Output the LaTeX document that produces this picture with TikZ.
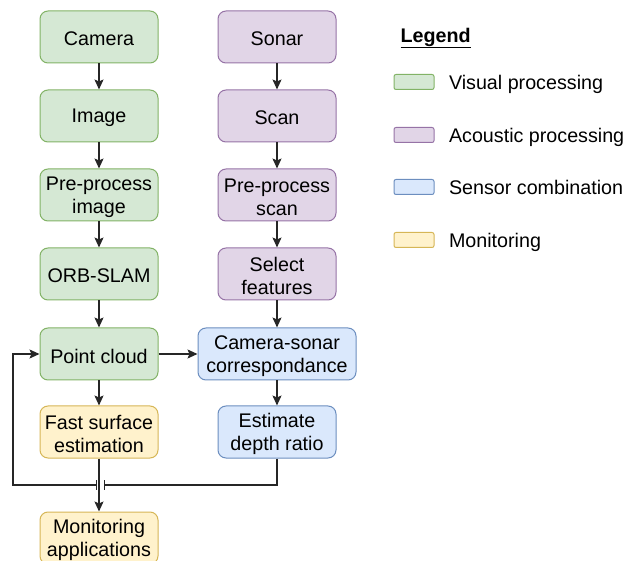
\documentclass[tikz,border=0pt]{standalone}
\usepackage{fontspec}
\setmainfont{Liberation Sans}
\usetikzlibrary{positioning,shapes,arrows,arrows.meta,calc}
\definecolor{visfill}{HTML}{D5E8D4}\definecolor{visline}{HTML}{82B366}
\definecolor{acufill}{HTML}{E1D5E7}\definecolor{aculine}{HTML}{9673A6}
\definecolor{senfill}{HTML}{DAE8FC}\definecolor{senline}{HTML}{6C8EBF}
\definecolor{monfill}{HTML}{FFF2CC}\definecolor{monline}{HTML}{D6B656}
\newcommand{\lowtext}[1]{\raisebox{-2pt}[\height][\depth]{#1}}
\tikzstyle{every text node part}=[font=\fontsize{19.7}{23}\selectfont]
\tikzset{
  block/.style={rectangle,rounded corners=8pt,line width=1pt,minimum width=118pt,
    minimum height=52pt,align=center,inner sep=2pt},
  visual/.style={block,draw=visline,fill=visfill},
  acoustic/.style={block,draw=aculine,fill=acufill},
  sensor/.style={block,draw=senline,fill=senfill},
  monitor/.style={block,draw=monline,fill=monfill},
  swatch/.style={rectangle,rounded corners=2pt,line width=1pt,minimum width=40pt,
    minimum height=15pt,inner sep=0pt},
  legtext/.style={anchor=west,text depth=0pt},
  flow/.style={-{Stealth[length=10pt,width=9pt,inset=2pt]},line width=1.3pt,black!85}
}

\begin{document}
\begin{tikzpicture}[x=1pt,y=-1pt]
      \useasboundingbox (0,0) rectangle (627,561);

      % visual chain
      \node [visual] (camera) at (99,37) {\lowtext{Camera}};
      \node [visual] (image) at (99,116) {\lowtext{Image}};
      \node [visual] (preimg) at (99,195) {\lowtext{Pre-process}\\\lowtext{image}};
      \node [visual] (orbslam) at (99,274) {\lowtext{ORB-SLAM}};
      \node [visual] (cloud) at (99,354) {\lowtext{Point cloud}};
      \node [monitor] (surface) at (99,432) {\lowtext{Fast surface}\\\lowtext{estimation}};
      \node [monitor] (apps) at (99,538) {\lowtext{Monitoring}\\\lowtext{applications}};

      % acoustic chain
      \node [acoustic] (sonar) at (277,37) {\lowtext{Sonar}};
      \node [acoustic] (scan) at (277,116) {\lowtext{Scan}};
      \node [acoustic] (prescan) at (277,195) {\lowtext{Pre-process}\\\lowtext{scan}};
      \node [acoustic] (features) at (277,274) {\lowtext{Select}\\\lowtext{features}};
      \node [sensor,minimum width=158pt] (corr) at (277,354) {\lowtext{Camera-sonar}\\\lowtext{correspondance}};
      \node [sensor] (depth) at (277,432) {\lowtext{Estimate}\\\lowtext{depth ratio}};

      \draw [flow] (camera) -- (image);
      \draw [flow] (image) -- (preimg);
      \draw [flow] (preimg) -- (orbslam);
      \draw [flow] (orbslam) -- (cloud);
      \draw [flow] (cloud) -- (surface);
      \draw [flow] (surface) -- (apps);

      \draw [flow] (sonar) -- (scan);
      \draw [flow] (scan) -- (prescan);
      \draw [flow] (prescan) -- (features);
      \draw [flow] (features) -- (corr);
      \draw [flow] (corr) -- (depth);
      \draw [flow] (cloud) -- (corr);

      % feedback with a line jump over the monitoring arrow
      \coordinate (jumpr) at (104,485);
      \coordinate (jumpl) at (96,485);
      \draw [line width=1.3pt,black!85] (depth.south) |- (jumpr);
      \draw [flow] (jumpl) -- (13,485) |- (cloud.west);
      \draw [line width=1pt,black!85] ($(jumpr)+(0,-5)$) -- ($(jumpr)+(0,5)$);
      \draw [line width=1pt,black!85] ($(jumpl)+(0,-5)$) -- ($(jumpl)+(0,5)$);

      % legend
      \node [anchor=west] (legend) at (397,38) {\textbf{\underline{Legend}}};
      \node [swatch,draw=visline,fill=visfill] (swvis) at (414,82) {};
      \node [swatch,draw=aculine,fill=acufill] (swacu) at (414,135) {};
      \node [swatch,draw=senline,fill=senfill] (swsen) at (414,187) {};
      \node [swatch,draw=monline,fill=monfill] (swmon) at (414,240) {};
      \node [legtext,right=11pt of swvis] {Visual processing};
      \node [legtext,right=11pt of swacu] {Acoustic processing};
      \node [legtext,right=11pt of swsen] {Sensor combination};
      \node [legtext,right=11pt of swmon] {Monitoring};

    \end{tikzpicture}
\end{document}
